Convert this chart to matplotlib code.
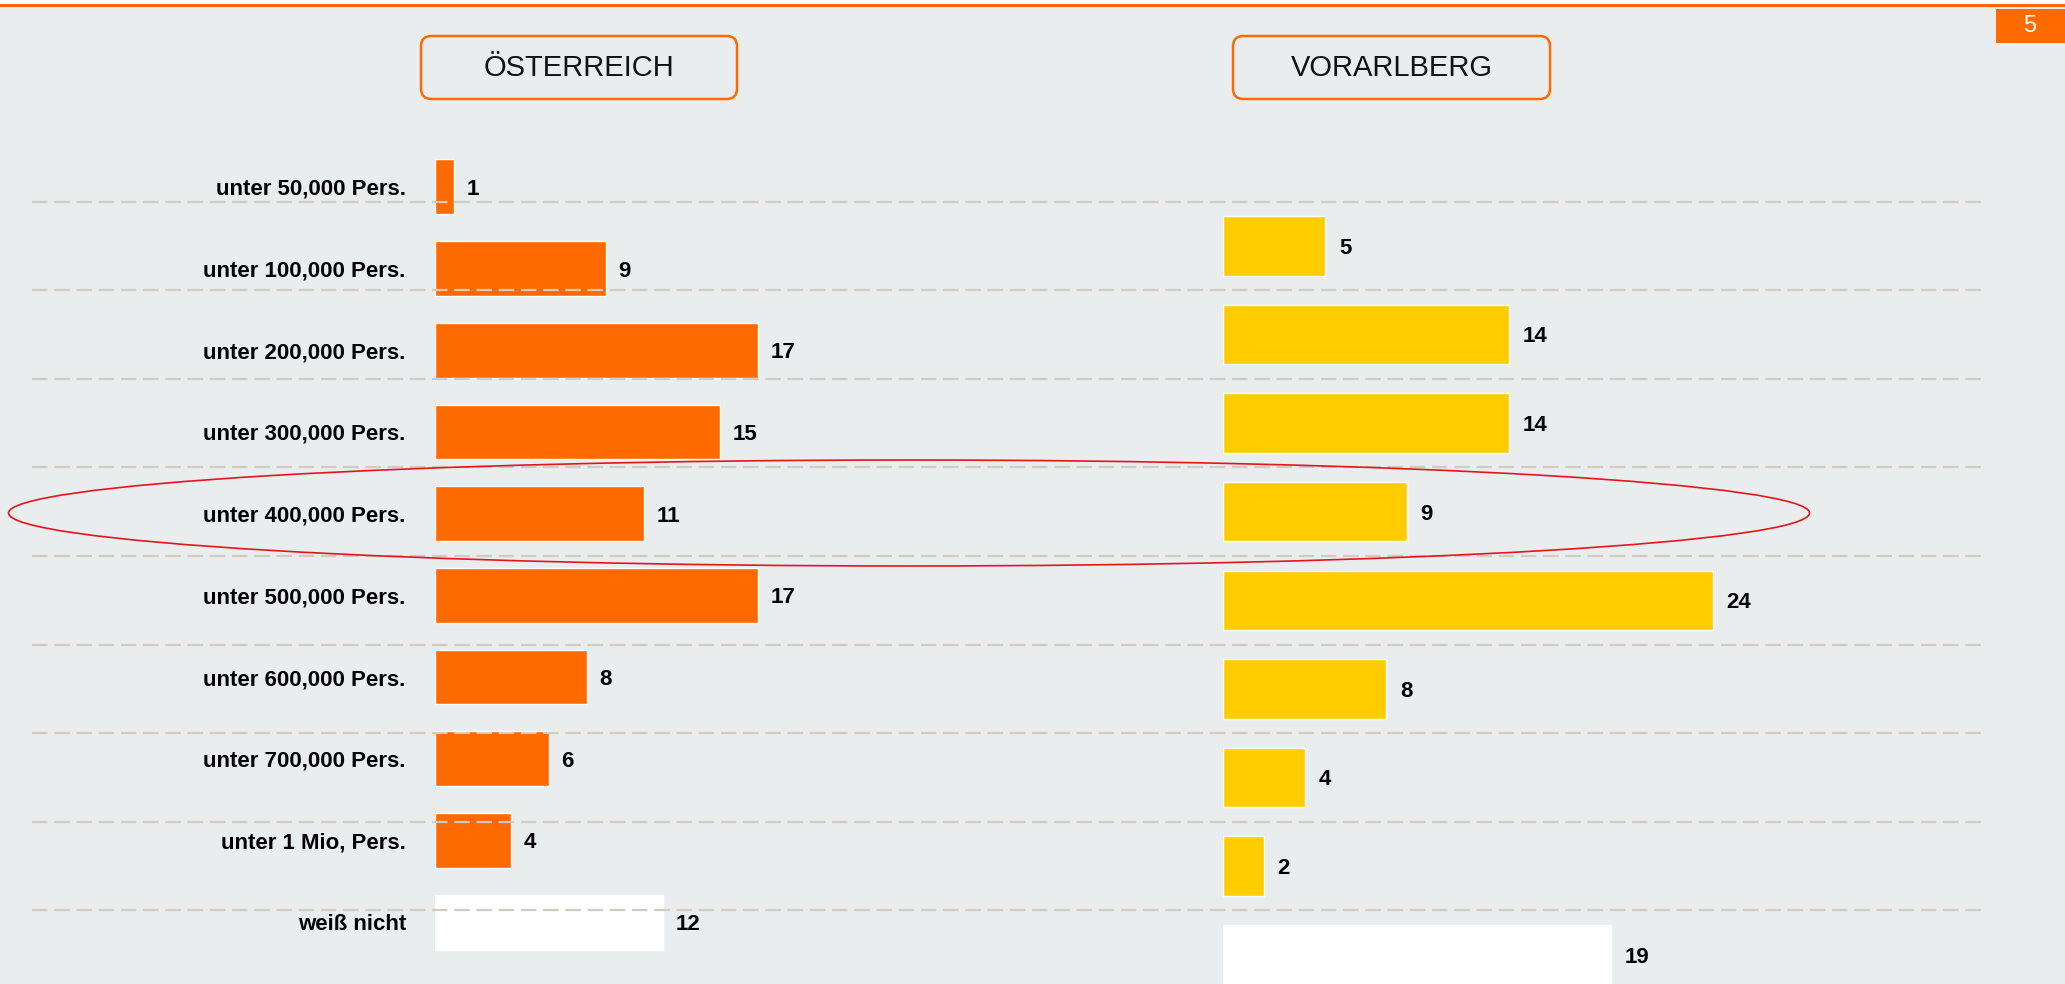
import matplotlib.pyplot as plt
from matplotlib.patches import FancyBboxPatch, Ellipse, Rectangle
from matplotlib.transforms import blended_transform_factory

# data
categories = ['unter 50,000 Pers.', 'unter 100,000 Pers.', 'unter 200,000 Pers.',
              'unter 300,000 Pers.', 'unter 400,000 Pers.', 'unter 500,000 Pers.',
              'unter 600,000 Pers.', 'unter 700,000 Pers.', 'unter 1 Mio, Pers.',
              'weiß nicht']
oesterreich = [1, 9, 17, 15, 11, 17, 8, 6, 4, 12]
# Vorarlberg has no value for the first category
vorarlberg = [5, 14, 14, 9, 24, 8, 4, 2, 19]
panel_titles = ['ÖSTERREICH', 'VORARLBERG']
page_number = '5'

BG = '#e9edee'
ORANGE = '#ff6a00'
YELLOW = '#ffcc00'
GRID = '#d3cbc0'
FONT = ['Liberation Sans Narrow', 'Liberation Sans', 'DejaVu Sans']

W, H = 2065, 984
fig = plt.figure(figsize=(W / 100, H / 100), dpi=100, facecolor=BG)
plt.rcParams['font.family'] = FONT


def fig_box(x0, top, x1, bottom):
    # pixel box -> figure fraction rect
    return [x0 / W, 1 - bottom / H, (x1 - x0) / W, (bottom - top) / H]


# left panel (Österreich)
ax1 = fig.add_axes(fig_box(435, 146, 435 + 19 * 30, 963))
ax1.set_facecolor('none')
col1 = [ORANGE] * (len(oesterreich) - 1) + ['white']
ax1.barh(range(len(oesterreich)), oesterreich, height=0.67, color=col1,
         edgecolor='white', linewidth=1)
ax1.set_xlim(0, 30)
ax1.set_ylim(len(categories) - 0.5, -0.5)
ax1.set_yticks(range(len(categories)))
ax1.set_yticklabels(categories, fontsize=16, fontweight='bold')
ax1.tick_params(axis='y', length=0, pad=21)
ax1.set_xticks([])
for i, v in enumerate(oesterreich):
    ax1.annotate(str(v), (v, i), xytext=(9, 0), textcoords='offset points',
                 va='center_baseline', ha='left', fontsize=16, fontweight='bold')

# right panel (Vorarlberg)
ax2 = fig.add_axes(fig_box(1223, 113, 1223 + 20.4 * 30, 999))
ax2.set_facecolor('none')
pos2 = range(1, len(vorarlberg) + 1)
col2 = [YELLOW] * (len(vorarlberg) - 1) + ['white']
ax2.barh(pos2, vorarlberg, height=0.67, color=col2,
         edgecolor='white', linewidth=1)
ax2.set_xlim(0, 30)
ax2.set_ylim(len(categories) - 0.5, -0.5)
ax2.set_xticks([])
ax2.set_yticks([])
for i, v in zip(pos2, vorarlberg):
    ax2.annotate(str(v), (v, i), xytext=(10, 0), textcoords='offset points',
                 va='center_baseline', ha='left', fontsize=16, fontweight='bold')

for ax in (ax1, ax2):
    for s in ax.spines.values():
        s.set_visible(False)

# dashed separators across both panels
trans = blended_transform_factory(fig.transFigure, ax2.transData)
for k in range(len(categories) - 1):
    ax2.plot([32 / W, 1985 / W], [k + 0.5, k + 0.5], transform=trans,
             color=GRID, lw=1.6, dashes=(7, 3), clip_on=False, zorder=5)

# panel title boxes
for title, (x0, x1) in zip(panel_titles, [(421, 737), (1233, 1550)]):
    r = fig_box(x0, 36, x1, 99)
    box = FancyBboxPatch((r[0], r[1]), r[2], r[3],
                         boxstyle='round,pad=0,rounding_size=0.005',
                         transform=fig.transFigure, facecolor='none',
                         edgecolor=ORANGE, linewidth=1.8,
                         mutation_aspect=W / H)
    fig.patches.append(box)
    fig.text(r[0] + r[2] / 2, r[1] + r[3] / 2, title, ha='center',
             va='center', fontsize=21, color='#111111')

# top rule and page number
fig.patches.append(Rectangle((0, 1 - 4 / H), 1, 4 / H, transform=fig.transFigure,
                             facecolor='white', edgecolor='none'))
fig.patches.append(Rectangle((0, 1 - 6.5 / H), 1, 2.5 / H, transform=fig.transFigure,
                             facecolor=ORANGE, edgecolor='none'))
r = fig_box(1996, 9, 2065, 43)
fig.patches.append(Rectangle((r[0], r[1]), r[2], r[3], transform=fig.transFigure,
                             facecolor=ORANGE, edgecolor='none'))
fig.text(2030 / W, 1 - 26 / H, page_number, ha='center', va='center',
         fontsize=17, color='white')

# red highlight around "unter 400,000 Pers."
fig.patches.append(Ellipse((909 / W, 1 - 513 / H), 1801 / W, 106 / H,
                           transform=fig.transFigure, facecolor='none',
                           edgecolor='#e8141c', linewidth=1.2, zorder=6))

fig.savefig('out.png', dpi=100, facecolor=BG)
